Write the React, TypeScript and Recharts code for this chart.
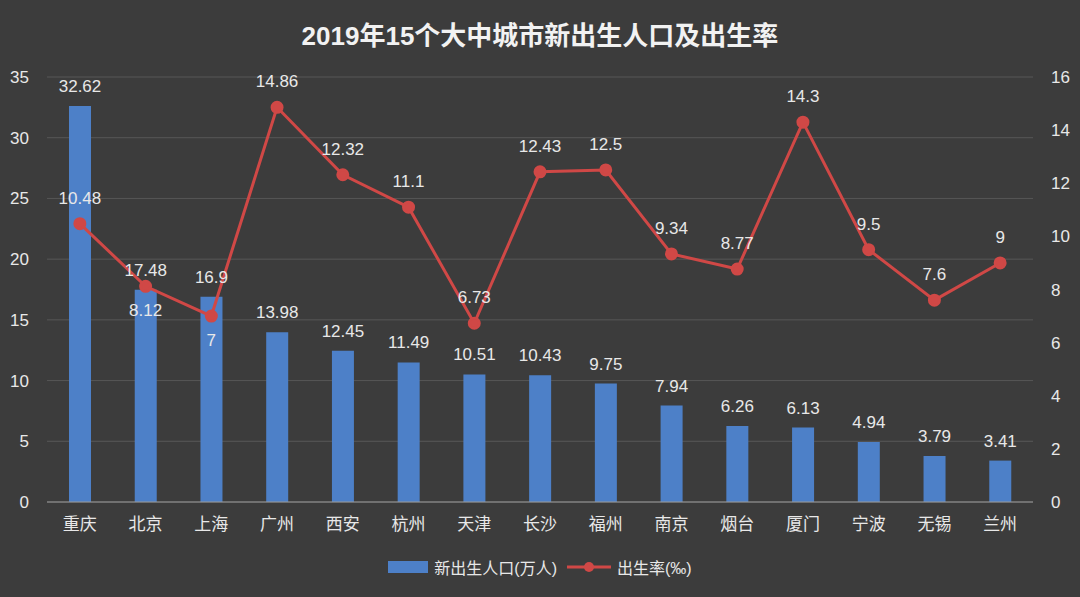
import { ComposedChart, Bar, Line, XAxis, YAxis, CartesianGrid, Legend, LabelList } from 'recharts';

const cities = ['重庆', '北京', '上海', '广州', '西安', '杭州', '天津', '长沙', '福州', '南京', '烟台', '厦门', '宁波', '无锡', '兰州'];
const births = [32.62, 17.48, 16.9, 13.98, 12.45, 11.49, 10.51, 10.43, 9.75, 7.94, 6.26, 6.13, 4.94, 3.79, 3.41];
const rates = [10.48, 8.12, 7, 14.86, 12.32, 11.1, 6.73, 12.43, 12.5, 9.34, 8.77, 14.3, 9.5, 7.6, 9];
const leftTicks = [0, 5, 10, 15, 20, 25, 30, 35];
const rightTicks = [0, 2, 4, 6, 8, 10, 12, 14, 16];

const data = cities.map((city, i) => ({ city, births: births[i], rate: rates[i] }));

const FONT = '"Liberation Sans", "Noto Sans CJK SC", sans-serif';
const TEXT = '#e8e8e8';
const BLUE = '#4d80c8';
const RED = '#d04846';

// labels under the point for these two cities, above for the rest
const below = ['北京', '上海'];

function RateLabel(props: any) {
  const { x, y, value, index } = props;
  const under = below.includes(cities[index]);
  return (
    <text x={x} y={under ? y + 30 : y - 20} textAnchor="middle" fill={TEXT} fontSize={17} fontFamily={FONT}>
      {value}
    </text>
  );
}

function LegendBox() {
  return (
    <div style={{ display: 'flex', justifyContent: 'center', alignItems: 'center', gap: 6, fontFamily: FONT, fontSize: 16, color: TEXT }}>
      <span style={{ display: 'inline-block', width: 40, height: 12, background: BLUE }} />
      <span>新出生人口(万人)</span>
      <svg width={44} height={14} style={{ marginLeft: 4 }}>
        <line x1={0} y1={7} x2={44} y2={7} stroke={RED} strokeWidth={3} />
        <circle cx={22} cy={7} r={5} fill={RED} />
      </svg>
      <span>出生率(‰)</span>
    </div>
  );
}

export default function App() {
  return (
    <div style={{ position: 'absolute', left: 0, top: 0, width: 1080, height: 597, background: '#3c3c3c' }}>
      <div style={{ position: 'absolute', top: 15, width: 1080, textAlign: 'center', color: '#f2f2f2', fontFamily: FONT, fontSize: 26, fontWeight: 600 }}>
        2019年15个大中城市新出生人口及出生率
      </div>
      <ComposedChart width={1080} height={597} data={data} margin={{ top: 77, right: 0, bottom: 0, left: 0 }} barCategoryGap="33%">
        <CartesianGrid vertical={false} stroke="#575757" yAxisId="left" />
        <XAxis
          dataKey="city"
          tick={{ fill: TEXT, fontSize: 17, fontFamily: FONT }}
          tickLine={false}
          axisLine={{ stroke: '#9a9a9a' }}
          height={40}
          tickMargin={10}
        />
        <YAxis
          yAxisId="left"
          domain={[0, 35]}
          ticks={leftTicks}
          width={47}
          tick={{ fill: TEXT, fontSize: 17, fontFamily: FONT }}
          tickLine={false}
          axisLine={false}
          tickMargin={12}
        />
        <YAxis
          yAxisId="right"
          orientation="right"
          domain={[0, 16]}
          ticks={rightTicks}
          width={47}
          tick={{ fill: TEXT, fontSize: 17, fontFamily: FONT }}
          tickLine={false}
          axisLine={false}
          tickMargin={12}
        />
        <Bar yAxisId="left" dataKey="births" fill={BLUE} barSize={22} isAnimationActive={false}>
          <LabelList dataKey="births" position="top" offset={14} fill={TEXT} fontSize={17} fontFamily={FONT} />
        </Bar>
        <Line
          yAxisId="right"
          dataKey="rate"
          stroke={RED}
          strokeWidth={3}
          dot={{ r: 5, fill: RED, stroke: RED }}
          isAnimationActive={false}
        >
          <LabelList dataKey="rate" content={RateLabel} />
        </Line>
        <Legend verticalAlign="bottom" height={55} content={LegendBox} wrapperStyle={{ top: 555, bottom: 'auto' }} />
      </ComposedChart>
    </div>
  );
}
